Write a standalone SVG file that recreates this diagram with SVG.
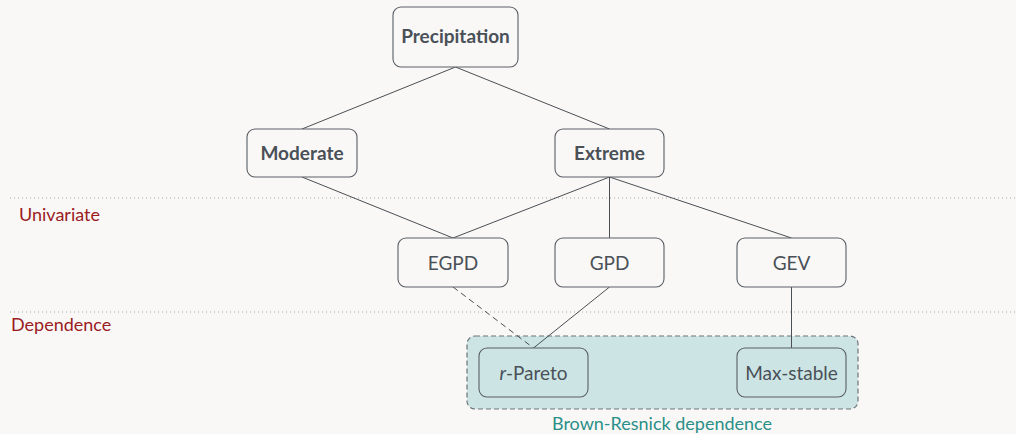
<svg xmlns="http://www.w3.org/2000/svg" width="1016" height="434" viewBox="0 0 1016 434">
<style>
.node rect{fill:#f9f8f6;stroke:#5a5f66;stroke-width:1.1}
.node text{font-family:Lato,"Open Sans",sans-serif;font-size:19px;fill:#4a5058;text-anchor:middle;dominant-baseline:central}
.b text{font-weight:bold}
.edge{stroke:#4a4f55;stroke-width:1;fill:none}
.sep{stroke:#a8a8a8;stroke-width:1;stroke-dasharray:1 3}
.lab{font-family:Lato,"Open Sans",sans-serif;font-size:18px;fill:#9b1b1e}
</style>
<rect width="1016" height="434" fill="#f9f8f6"/>
<line class="sep" x1="10" y1="198" x2="1016" y2="198"/>
<line class="sep" x1="10" y1="312" x2="1016" y2="312"/>
<text class="lab" x="19" y="221">Univariate</text>
<text class="lab" x="11" y="331">Dependence</text>
<g id="brown-resnick">
<rect x="467" y="336" width="391" height="73" rx="8" fill="#cce5e4" stroke="#6e7479" stroke-width="1.2" stroke-dasharray="5 3"/>
<text x="662" y="430" font-family="Lato,'Open Sans',sans-serif" font-size="18" fill="#2a8f88" text-anchor="middle">Brown-Resnick dependence</text>
</g>
<g id="connectors">
<line class="edge" x1="455.5" y1="67" x2="302" y2="129"/>
<line class="edge" x1="455.5" y1="67" x2="609.5" y2="129"/>
<line class="edge" x1="302" y1="177" x2="453" y2="238"/>
<line class="edge" x1="609.5" y1="177" x2="453" y2="238"/>
<line class="edge" x1="609.5" y1="177" x2="609.5" y2="238"/>
<line class="edge" x1="609.5" y1="177" x2="791.5" y2="238"/>
<line class="edge" x1="453" y1="287" x2="533.5" y2="348" stroke-dasharray="6 4"/>
<line class="edge" x1="609.5" y1="287" x2="533.5" y2="348"/>
<line class="edge" x1="791.5" y1="287" x2="791.5" y2="348"/>
</g>
<g id="precipitation" class="node b"><rect x="393" y="7" width="125" height="60" rx="8"/><text x="455.5" y="35">Precipitation</text></g>
<g id="moderate" class="node b"><rect x="247" y="129" width="110" height="48" rx="8"/><text x="302" y="152">Moderate</text></g>
<g id="extreme" class="node b"><rect x="555" y="129" width="109" height="48" rx="8"/><text x="609.5" y="152">Extreme</text></g>
<g id="egpd" class="node"><rect x="398" y="238" width="110" height="49" rx="8"/><text x="453" y="262">EGPD</text></g>
<g id="gpd" class="node"><rect x="555" y="238" width="109" height="49" rx="8"/><text x="609.5" y="262">GPD</text></g>
<g id="gev" class="node"><rect x="737" y="238" width="109" height="49" rx="8"/><text x="791.5" y="262">GEV</text></g>
<g id="r-pareto" class="node"><rect x="479" y="348" width="109" height="49" rx="8" style="fill:#cce5e4"/><text x="533.5" y="372"><tspan font-style="italic">r</tspan>-Pareto</text></g>
<g id="max-stable" class="node"><rect x="737" y="348" width="109" height="49" rx="8" style="fill:#cce5e4"/><text x="791.5" y="372">Max-stable</text></g>
</svg>
